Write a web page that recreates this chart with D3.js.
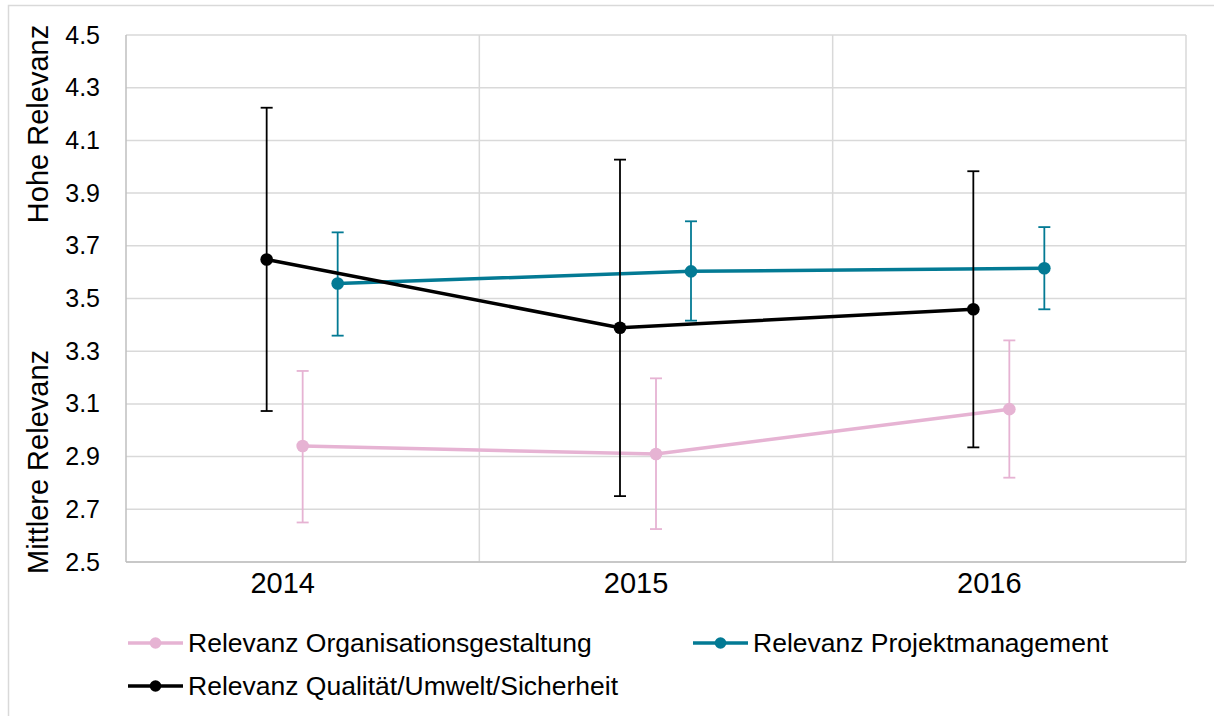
<!DOCTYPE html>
<html>
<head>
<meta charset="utf-8">
<script src="https://cdn.jsdelivr.net/npm/d3@7"></script>
<style>
  body { margin: 0; background: #fff; }
  svg { font-family: "Liberation Sans", Arial, sans-serif; }
</style>
</head>
<body>
<svg id="chart" width="1214" height="716"></svg>
<script>
// data
const years = ["2014", "2015", "2016"];
const yTicks = [2.5, 2.7, 2.9, 3.1, 3.3, 3.5, 3.7, 3.9, 4.1, 4.3, 4.5];

const orgMean = [2.94, 2.91, 3.08];
const orgLow  = [2.65, 2.625, 2.82];
const orgHigh = [3.225, 3.197, 3.341];

const projMean = [3.557, 3.603, 3.615];
const projLow  = [3.359, 3.416, 3.459];
const projHigh = [3.751, 3.793, 3.771];

const qusMean = [3.648, 3.389, 3.459];
const qusLow  = [3.073, 2.75, 2.935];
const qusHigh = [4.224, 4.027, 3.983];

const series = [
    {name: "Relevanz Organisationsgestaltung", color: "#e6b3d3", mean: orgMean, low: orgLow, high: orgHigh, shift: 0},
    {name: "Relevanz Projektmanagement", color: "#037a94", mean: projMean, low: projLow, high: projHigh, shift: 35},
    {name: "Relevanz Qualität/Umwelt/Sicherheit", color: "#000000", mean: qusMean, low: qusLow, high: qusHigh, shift: -36}
];

const margin = {top: 35, right: 28, bottom: 154, left: 126};
const width = 1214 - margin.left - margin.right;
const height = 716 - margin.top - margin.bottom;

const svg = d3.select("#chart");

// outer frame (right and bottom edges fall outside the picture)
svg.append("rect")
    .attr("x", 8.5).attr("y", 5.5)
    .attr("width", 1230).attr("height", 730)
    .attr("fill", "none")
    .attr("stroke", "#d9d9d9")
    .attr("stroke-width", 1.5);

const g = svg.append("g")
    .attr("transform", `translate(${margin.left}, ${margin.top})`);

const x = d3.scaleBand().domain(years).range([0, width]);
const y = d3.scaleLinear().domain([2.5, 4.5]).range([height, 0]);

// horizontal gridlines
g.append("g")
    .selectAll("line")
    .data(yTicks)
    .join("line")
    .attr("x1", 0).attr("x2", width)
    .attr("y1", d => y(d)).attr("y2", d => y(d))
    .attr("stroke", "#d9d9d9")
    .attr("stroke-width", 1.5);

// vertical gridlines at band edges
g.append("g")
    .selectAll("line")
    .data(years.slice(1).concat(["end"]))
    .join("line")
    .attr("x1", d => d === "end" ? width : x(d))
    .attr("x2", d => d === "end" ? width : x(d))
    .attr("y1", 0).attr("y2", height)
    .attr("stroke", "#d9d9d9")
    .attr("stroke-width", 1.5);

// left + bottom axis lines
g.append("line")
    .attr("x1", 0).attr("x2", 0).attr("y1", 0).attr("y2", height)
    .attr("stroke", "#bfbfbf").attr("stroke-width", 1.5);
g.append("line")
    .attr("x1", 0).attr("x2", width).attr("y1", height).attr("y2", height)
    .attr("stroke", "#bfbfbf").attr("stroke-width", 1.5);

// y axis labels
const yAxis = d3.axisLeft(y)
    .tickValues(yTicks)
    .tickFormat(d3.format(".1f"))
    .tickSize(0)
    .tickPadding(26);
g.append("g")
    .call(yAxis)
    .call(a => a.select(".domain").remove())
    .selectAll("text")
    .attr("font-size", 25)
    .attr("font-family", "Liberation Sans, Arial, sans-serif")
    .attr("fill", "#000");

// x axis labels
const xAxis = d3.axisBottom(x).tickSize(0).tickPadding(10);
g.append("g")
    .attr("transform", `translate(-20, ${height})`)
    .call(xAxis)
    .call(a => a.select(".domain").remove())
    .selectAll("text")
    .attr("font-size", 29)
    .attr("font-family", "Liberation Sans, Arial, sans-serif")
    .attr("fill", "#000");

// y axis titles
svg.append("text")
    .attr("transform", "translate(48, 124) rotate(-90)")
    .attr("text-anchor", "middle")
    .attr("font-size", 29)
    .text("Hohe Relevanz");
svg.append("text")
    .attr("transform", "translate(48, 462) rotate(-90)")
    .attr("text-anchor", "middle")
    .attr("font-size", 29)
    .text("Mittlere Relevanz");

const px = (s, i) => x(years[i]) + x.bandwidth() / 2 + s.shift;

// lines + error bars
series.forEach(s => {
    const sg = g.append("g");
    const idx = d3.range(years.length);

    sg.selectAll(".err")
        .data(idx)
        .join("line")
        .attr("x1", i => px(s, i)).attr("x2", i => px(s, i))
        .attr("y1", i => y(s.low[i])).attr("y2", i => y(s.high[i]))
        .attr("stroke", s.color).attr("stroke-width", 1.8);

    ["low", "high"].forEach(k => {
        sg.selectAll(".cap-" + k)
            .data(idx)
            .join("line")
            .attr("x1", i => px(s, i) - 6).attr("x2", i => px(s, i) + 6)
            .attr("y1", i => y(s[k][i])).attr("y2", i => y(s[k][i]))
            .attr("stroke", s.color).attr("stroke-width", 1.8);
    });

    const line = d3.line()
        .x(i => px(s, i))
        .y(i => y(s.mean[i]));
    sg.append("path")
        .datum(idx)
        .attr("d", line)
        .attr("fill", "none")
        .attr("stroke", s.color)
        .attr("stroke-width", 3.5);

    sg.selectAll("circle")
        .data(idx)
        .join("circle")
        .attr("cx", i => px(s, i))
        .attr("cy", i => y(s.mean[i]))
        .attr("r", 6.3)
        .attr("fill", s.color);
});

// legend
const legendPos = [
    {x: 128, y: 643},
    {x: 693, y: 643},
    {x: 128, y: 686}
];
series.forEach((s, i) => {
    const lg = svg.append("g")
        .attr("transform", `translate(${legendPos[i].x}, ${legendPos[i].y})`);
    lg.append("line")
        .attr("x1", 0).attr("x2", 55)
        .attr("y1", 0).attr("y2", 0)
        .attr("stroke", s.color).attr("stroke-width", 3.5);
    lg.append("circle")
        .attr("cx", 27.5).attr("cy", 0).attr("r", 5.8)
        .attr("fill", s.color);
    lg.append("text")
        .attr("x", 60).attr("y", 0)
        .attr("dy", "0.35em")
        .attr("font-size", 26.5)
        .text(s.name);
});
</script>
</body>
</html>
